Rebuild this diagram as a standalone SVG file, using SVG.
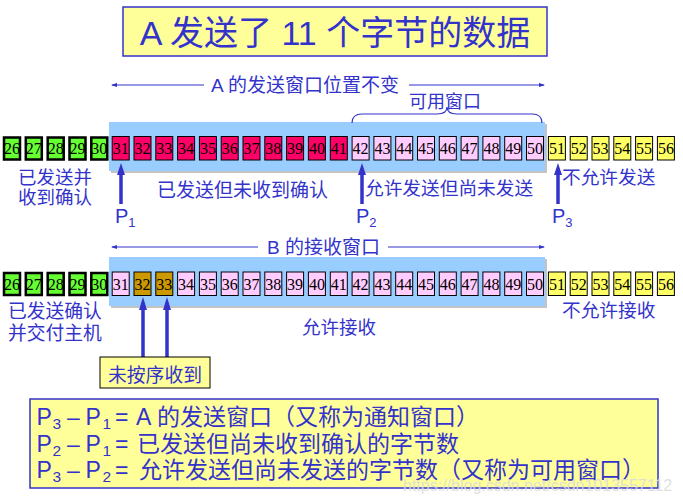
<svg xmlns="http://www.w3.org/2000/svg" width="683" height="504" viewBox="0 0 683 504">
<style>
.t{font-family:"Liberation Sans","Noto Sans CJK SC",sans-serif;fill:#3333CC}
.L{font-size:23px}
.S{font-size:15.5px}
.F{font-size:23px}
.c{stroke:#000;stroke-width:1}
.g{fill:#66FF33;stroke:#000;stroke-width:2.5}
.r{fill:#FF0066}
.p{fill:#FFCCFF}
.y{fill:#FFFF66}
.o{fill:#CC9900}
.n{font-family:"Liberation Serif","DejaVu Serif",serif;font-size:16px;fill:#000;text-anchor:middle}
.band{fill:#99CCFF}
.ln{stroke:#3333CC;stroke-width:1.2;fill:none}
.ar{stroke:#3333CC;stroke-width:3.5;fill:none}
.ah{fill:#3333CC}
</style>
<defs>
<marker id="m" viewBox="0 0 6 6" refX="5" refY="3" markerWidth="6" markerHeight="6" orient="auto-start-reverse" markerUnits="userSpaceOnUse">
<path d="M0,1 L6,3 L0,5 Z" fill="#3333CC"/>
</marker>
</defs>
<rect width="683" height="504" fill="#fff"/>
<g id="title">
<rect x="123" y="7" width="424" height="49" fill="#FFFF99" stroke="#3333CC" stroke-width="1.5"/>
<text class="t" x="335" y="45" font-size="34" text-anchor="middle">A 发送了 11 个字节的数据</text>
</g>
<g id="bands">
<rect x="111" y="124" width="436" height="49" fill="#888" opacity="0.5"/>
<rect class="band" x="109" y="122" width="436" height="49"/>
<rect x="111" y="259" width="436" height="49" fill="#888" opacity="0.5"/>
<rect class="band" x="109" y="257" width="436" height="49"/>
</g>
<g id="connectors">
<line class="ln" x1="112" y1="85" x2="204" y2="85" marker-start="url(#m)"/>
<line class="ln" x1="409" y1="85" x2="544" y2="85" marker-end="url(#m)"/>
<line class="ln" x1="112" y1="247" x2="258" y2="247" marker-start="url(#m)"/>
<line class="ln" x1="388" y1="247" x2="544" y2="247" marker-end="url(#m)"/>
<path class="ln" d="M352,123 Q352,114 362,114 L437,114 Q447,114 447,107 Q447,114 457,114 L532,114 Q542,114 542,123"/>
<line class="ar" x1="121" y1="172" x2="121" y2="204"/>
<path class="ah" d="M121,163 L125,175 L117,175 Z"/>
<line class="ar" x1="362" y1="172" x2="362" y2="204"/>
<path class="ah" d="M362,163 L366,175 L358,175 Z"/>
<line class="ar" x1="558" y1="172" x2="558" y2="204"/>
<path class="ah" d="M558,163 L562,175 L554,175 Z"/>
<line class="ar" x1="143" y1="306" x2="143" y2="357"/>
<path class="ah" d="M143,297 L147,310 L139,310 Z"/>
<line class="ar" x1="167" y1="306" x2="167" y2="357"/>
<path class="ah" d="M167,297 L171,310 L163,310 Z"/>
</g>
<g id="rowA">
<rect class="g" x="4" y="137.5" width="16" height="22"/><text class="n" x="12" y="154">26</text>
<rect class="g" x="25.8" y="137.5" width="16" height="22"/><text class="n" x="33.8" y="154">27</text>
<rect class="g" x="47.7" y="137.5" width="16" height="22"/><text class="n" x="55.7" y="154">28</text>
<rect class="g" x="69.5" y="137.5" width="16" height="22"/><text class="n" x="77.5" y="154">29</text>
<rect class="g" x="91.3" y="137.5" width="16" height="22"/><text class="n" x="99.3" y="154">30</text>
<rect class="c r" x="112.2" y="136.5" width="17" height="23.5"/><text class="n" x="120.7" y="154">31</text>
<rect class="c r" x="134" y="136.5" width="17" height="23.5"/><text class="n" x="142.5" y="154">32</text>
<rect class="c r" x="155.8" y="136.5" width="17" height="23.5"/><text class="n" x="164.3" y="154">33</text>
<rect class="c r" x="177.6" y="136.5" width="17" height="23.5"/><text class="n" x="186.1" y="154">34</text>
<rect class="c r" x="199.4" y="136.5" width="17" height="23.5"/><text class="n" x="207.9" y="154">35</text>
<rect class="c r" x="221.2" y="136.5" width="17" height="23.5"/><text class="n" x="229.7" y="154">36</text>
<rect class="c r" x="243" y="136.5" width="17" height="23.5"/><text class="n" x="251.5" y="154">37</text>
<rect class="c r" x="264.8" y="136.5" width="17" height="23.5"/><text class="n" x="273.3" y="154">38</text>
<rect class="c r" x="286.6" y="136.5" width="17" height="23.5"/><text class="n" x="295.1" y="154">39</text>
<rect class="c r" x="308.4" y="136.5" width="17" height="23.5"/><text class="n" x="316.9" y="154">40</text>
<rect class="c r" x="330.3" y="136.5" width="17" height="23.5"/><text class="n" x="338.8" y="154">41</text>
<rect class="c p" x="352.1" y="136.5" width="17" height="23.5"/><text class="n" x="360.6" y="154">42</text>
<rect class="c p" x="373.9" y="136.5" width="17" height="23.5"/><text class="n" x="382.4" y="154">43</text>
<rect class="c p" x="395.7" y="136.5" width="17" height="23.5"/><text class="n" x="404.2" y="154">44</text>
<rect class="c p" x="417.5" y="136.5" width="17" height="23.5"/><text class="n" x="426" y="154">45</text>
<rect class="c p" x="439.3" y="136.5" width="17" height="23.5"/><text class="n" x="447.8" y="154">46</text>
<rect class="c p" x="461.1" y="136.5" width="17" height="23.5"/><text class="n" x="469.6" y="154">47</text>
<rect class="c p" x="482.9" y="136.5" width="17" height="23.5"/><text class="n" x="491.4" y="154">48</text>
<rect class="c p" x="504.7" y="136.5" width="17" height="23.5"/><text class="n" x="513.2" y="154">49</text>
<rect class="c p" x="526.5" y="136.5" width="17" height="23.5"/><text class="n" x="535" y="154">50</text>
<rect class="c y" x="548.4" y="136.5" width="17" height="23.5"/><text class="n" x="556.9" y="154">51</text>
<rect class="c y" x="570.2" y="136.5" width="17" height="23.5"/><text class="n" x="578.7" y="154">52</text>
<rect class="c y" x="592" y="136.5" width="17" height="23.5"/><text class="n" x="600.5" y="154">53</text>
<rect class="c y" x="613.8" y="136.5" width="17" height="23.5"/><text class="n" x="622.3" y="154">54</text>
<rect class="c y" x="635.6" y="136.5" width="17" height="23.5"/><text class="n" x="644.1" y="154">55</text>
<rect class="c y" x="657.4" y="136.5" width="17" height="23.5"/><text class="n" x="665.9" y="154">56</text>
</g>
<g id="rowB">
<rect class="g" x="4" y="273" width="16" height="22"/><text class="n" x="12" y="289.5">26</text>
<rect class="g" x="25.8" y="273" width="16" height="22"/><text class="n" x="33.8" y="289.5">27</text>
<rect class="g" x="47.7" y="273" width="16" height="22"/><text class="n" x="55.7" y="289.5">28</text>
<rect class="g" x="69.5" y="273" width="16" height="22"/><text class="n" x="77.5" y="289.5">29</text>
<rect class="g" x="91.3" y="273" width="16" height="22"/><text class="n" x="99.3" y="289.5">30</text>
<rect class="c p" x="112.2" y="272" width="17" height="23.5"/><text class="n" x="120.7" y="289.5">31</text>
<rect class="c o" x="134" y="272" width="17" height="23.5"/><text class="n" x="142.5" y="289.5">32</text>
<rect class="c o" x="155.8" y="272" width="17" height="23.5"/><text class="n" x="164.3" y="289.5">33</text>
<rect class="c p" x="177.6" y="272" width="17" height="23.5"/><text class="n" x="186.1" y="289.5">34</text>
<rect class="c p" x="199.4" y="272" width="17" height="23.5"/><text class="n" x="207.9" y="289.5">35</text>
<rect class="c p" x="221.2" y="272" width="17" height="23.5"/><text class="n" x="229.7" y="289.5">36</text>
<rect class="c p" x="243" y="272" width="17" height="23.5"/><text class="n" x="251.5" y="289.5">37</text>
<rect class="c p" x="264.8" y="272" width="17" height="23.5"/><text class="n" x="273.3" y="289.5">38</text>
<rect class="c p" x="286.6" y="272" width="17" height="23.5"/><text class="n" x="295.1" y="289.5">39</text>
<rect class="c p" x="308.4" y="272" width="17" height="23.5"/><text class="n" x="316.9" y="289.5">40</text>
<rect class="c p" x="330.3" y="272" width="17" height="23.5"/><text class="n" x="338.8" y="289.5">41</text>
<rect class="c p" x="352.1" y="272" width="17" height="23.5"/><text class="n" x="360.6" y="289.5">42</text>
<rect class="c p" x="373.9" y="272" width="17" height="23.5"/><text class="n" x="382.4" y="289.5">43</text>
<rect class="c p" x="395.7" y="272" width="17" height="23.5"/><text class="n" x="404.2" y="289.5">44</text>
<rect class="c p" x="417.5" y="272" width="17" height="23.5"/><text class="n" x="426" y="289.5">45</text>
<rect class="c p" x="439.3" y="272" width="17" height="23.5"/><text class="n" x="447.8" y="289.5">46</text>
<rect class="c p" x="461.1" y="272" width="17" height="23.5"/><text class="n" x="469.6" y="289.5">47</text>
<rect class="c p" x="482.9" y="272" width="17" height="23.5"/><text class="n" x="491.4" y="289.5">48</text>
<rect class="c p" x="504.7" y="272" width="17" height="23.5"/><text class="n" x="513.2" y="289.5">49</text>
<rect class="c p" x="526.5" y="272" width="17" height="23.5"/><text class="n" x="535" y="289.5">50</text>
<rect class="c y" x="548.4" y="272" width="17" height="23.5"/><text class="n" x="556.9" y="289.5">51</text>
<rect class="c y" x="570.2" y="272" width="17" height="23.5"/><text class="n" x="578.7" y="289.5">52</text>
<rect class="c y" x="592" y="272" width="17" height="23.5"/><text class="n" x="600.5" y="289.5">53</text>
<rect class="c y" x="613.8" y="272" width="17" height="23.5"/><text class="n" x="622.3" y="289.5">54</text>
<rect class="c y" x="635.6" y="272" width="17" height="23.5"/><text class="n" x="644.1" y="289.5">55</text>
<rect class="c y" x="657.4" y="272" width="17" height="23.5"/><text class="n" x="665.9" y="289.5">56</text>
</g>
<g id="labels">
<text class="t" x="211" y="92" font-size="19">A 的发送窗口位置不变</text>
<text class="t" x="409" y="108" font-size="18">可用窗口</text>
<text class="t" x="18" y="184" font-size="18.5">已发送并</text>
<text class="t" x="18" y="204" font-size="18.5">收到确认</text>
<text class="t" x="157" y="197" font-size="19">已发送但未收到确认</text>
<text class="t" x="365" y="195" font-size="18.7">允许发送但尚未发送</text>
<text class="t" x="562" y="184" font-size="18.7">不允许发送</text>
<text class="t" x="115" y="223" font-size="20">P<tspan font-size="13" dy="4">1</tspan></text>
<text class="t" x="356" y="223" font-size="20">P<tspan font-size="13" dy="4">2</tspan></text>
<text class="t" x="552" y="223" font-size="20">P<tspan font-size="13" dy="4">3</tspan></text>
<text class="t" x="267" y="254" font-size="19">B 的接收窗口</text>
<text class="t" x="8" y="318" font-size="18.8">已发送确认</text>
<text class="t" x="8" y="340" font-size="18.8">并交付主机</text>
<text class="t" x="302" y="334" font-size="18.5">允许接收</text>
<text class="t" x="562" y="317" font-size="18.7">不允许接收</text>
</g>
<g id="outoforder">
<rect x="100" y="357" width="110" height="31" fill="#FFFF99" stroke="#000" stroke-width="1"/>
<text class="t" x="155" y="382" font-size="18.8" text-anchor="middle">未按序收到</text>
</g>
<g id="formulas">
<rect x="30" y="399" width="628" height="89" fill="#FFFF99" stroke="#3333CC" stroke-width="1.5"/>
<text class="t L" x="36.5" y="425">P</text><text class="t S" x="52.5" y="429">3</text><text class="t L" x="67" y="425">–</text><text class="t L" x="85.5" y="425">P</text><text class="t S" x="102.5" y="429">1</text><text class="t L" x="115" y="425">=</text><text class="t L" x="136" y="425">A</text>
<text class="t F" x="157" y="425">的发送窗口（又称为通知窗口）</text>
<text class="t L" x="36.5" y="452">P</text><text class="t S" x="52.5" y="456">2</text><text class="t L" x="67" y="452">–</text><text class="t L" x="85.5" y="452">P</text><text class="t S" x="102.5" y="456">1</text><text class="t L" x="115" y="452">=</text>
<text class="t F" x="137" y="452">已发送但尚未收到确认的字节数</text>
<text class="t L" x="36.5" y="478">P</text><text class="t S" x="52.5" y="482">3</text><text class="t L" x="67" y="478">–</text><text class="t L" x="85.5" y="478">P</text><text class="t S" x="102.5" y="482">2</text><text class="t L" x="115" y="478">=</text>
<text class="t F" x="139" y="478">允许发送但尚未发送的字节数（又称为可用窗口）</text>
</g>
<text x="403" y="491" font-family="Liberation Sans,sans-serif" font-size="16" fill="#dcdcdc" opacity="0.85">https://blog.csdn.net/csdn1013557112</text>
</svg>
